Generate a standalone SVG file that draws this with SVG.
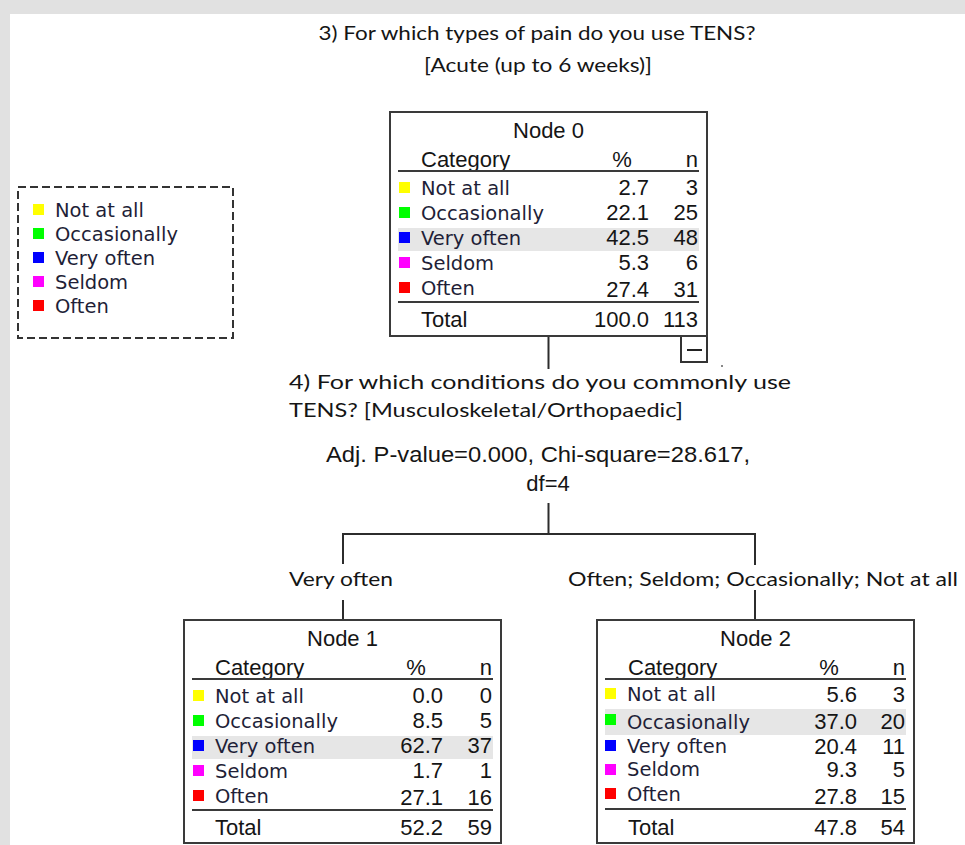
<svg xmlns="http://www.w3.org/2000/svg" width="965" height="845" viewBox="0 0 965 845">
<style>
.lab{font-family:"DejaVu Sans","Noto Sans",sans-serif;font-size:19.5px;fill:#1f1f38}
.tb{font-family:"Liberation Sans",Arial,sans-serif;font-size:22px;fill:#151515}
.cal{font-family:Lato,"Liberation Sans",sans-serif;font-size:19px;fill:#151515}
.box{fill:#fff;stroke:#3a3a3a;stroke-width:2}
.rule{stroke:#3a3a3a;stroke-width:2;fill:none}
.hl{fill:#e6e6e6}
.conn{stroke:#2c2c2c;stroke-width:2;fill:none}
.y{fill:#ffff00}.g{fill:#00ff00}.b{fill:#0000ff}.m{fill:#ff00ff}.r{fill:#ff0000}
</style>
<rect x="0" y="0" width="965" height="845" fill="#ffffff"/>
<rect x="0" y="0" width="965" height="14" fill="#e1e1e1"/>
<rect x="0" y="0" width="10" height="845" fill="#e1e1e1"/>

<g id="title">
<text class="cal" x="537" y="40" text-anchor="middle" textLength="437" lengthAdjust="spacingAndGlyphs">3) For which types of pain do you use TENS?</text>
<text class="cal" x="538" y="72" text-anchor="middle" textLength="228" lengthAdjust="spacingAndGlyphs">[Acute (up to 6 weeks)]</text>
</g>

<g id="legend">
<rect x="18" y="187" width="215" height="151" fill="none" stroke="#333" stroke-width="2" stroke-dasharray="8 4"/>
<rect class="y" x="33" y="204" width="11" height="11"/><text class="lab" x="55" y="217">Not at all</text>
<rect class="g" x="33" y="228" width="11" height="11"/><text class="lab" x="55" y="241">Occasionally</text>
<rect class="b" x="33" y="252" width="11" height="11"/><text class="lab" x="55" y="265">Very often</text>
<rect class="m" x="33" y="276" width="11" height="11"/><text class="lab" x="55" y="289">Seldom</text>
<rect class="r" x="33" y="300" width="11" height="11"/><text class="lab" x="55" y="313">Often</text>
</g>

<g id="connectors">
<line class="conn" x1="548.5" y1="336" x2="548.5" y2="369"/>
<path class="conn" d="M548.5 503 V534 M343 534 H755 M343 533 V564 M755 533 V565 M343 600 V620 M755 590 V620"/>
<rect x="681" y="336" width="26" height="26" fill="#fff" stroke="#333" stroke-width="2"/>
<line x1="687" y1="350" x2="702" y2="350" stroke="#222" stroke-width="2"/>
<rect x="721" y="365" width="2" height="2" fill="#888"/>
</g>

<g id="split">
<text class="cal" x="289" y="389" textLength="502" lengthAdjust="spacingAndGlyphs">4) For which conditions do you commonly use</text>
<text class="cal" x="289" y="417" textLength="394" lengthAdjust="spacingAndGlyphs">TENS? [Musculoskeletal/Orthopaedic]</text>
<text class="tb" x="326" y="462" textLength="424" lengthAdjust="spacingAndGlyphs">Adj. P-value=0.000, Chi-square=28.617,</text>
<text class="tb" x="548" y="491" text-anchor="middle">df=4</text>
</g>

<g id="edge-labels">
<text class="cal" x="289" y="586" textLength="104" lengthAdjust="spacingAndGlyphs">Very often</text>
<text class="cal" x="568" y="586" textLength="390" lengthAdjust="spacingAndGlyphs">Often; Seldom; Occasionally; Not at all</text>
</g>

<g id="node0" transform="translate(390,112)">
<rect class="box" x="0" y="0" width="317" height="224"/>
<rect class="hl" x="8" y="116" width="301" height="23"/>
<text class="tb" x="158.5" y="26" text-anchor="middle">Node 0</text>
<text class="tb" x="31" y="55">Category</text>
<text class="tb" x="232" y="55" text-anchor="middle">%</text>
<text class="tb" x="308" y="55" text-anchor="end">n</text>
<line class="rule" x1="8" y1="59" x2="309" y2="59"/>
<rect class="y" x="9" y="70" width="11" height="11"/><text class="lab" x="31" y="83">Not at all</text>
<text class="tb" x="259" y="83" text-anchor="end">2.7</text><text class="tb" x="308" y="83" text-anchor="end">3</text>
<rect class="g" x="9" y="95" width="11" height="11"/><text class="lab" x="31" y="108">Occasionally</text>
<text class="tb" x="259" y="108" text-anchor="end">22.1</text><text class="tb" x="308" y="108" text-anchor="end">25</text>
<rect class="b" x="9" y="120" width="11" height="11"/><text class="lab" x="31" y="133">Very often</text>
<text class="tb" x="259" y="133" text-anchor="end">42.5</text><text class="tb" x="308" y="133" text-anchor="end">48</text>
<rect class="m" x="9" y="145" width="11" height="11"/><text class="lab" x="31" y="158">Seldom</text>
<text class="tb" x="259" y="158" text-anchor="end">5.3</text><text class="tb" x="308" y="158" text-anchor="end">6</text>
<rect class="r" x="9" y="170" width="11" height="11"/><text class="lab" x="31" y="183">Often</text>
<text class="tb" x="259" y="185" text-anchor="end">27.4</text><text class="tb" x="308" y="185" text-anchor="end">31</text>
<line class="rule" x1="8" y1="190" x2="309" y2="190"/>
<text class="tb" x="31" y="215">Total</text>
<text class="tb" x="259" y="215" text-anchor="end">100.0</text><text class="tb" x="308" y="215" text-anchor="end">113</text>
</g>

<g id="node1" transform="translate(184,620)">
<rect class="box" x="0" y="0" width="317" height="223"/>
<rect class="hl" x="8" y="116" width="301" height="23"/>
<text class="tb" x="158.5" y="26" text-anchor="middle">Node 1</text>
<text class="tb" x="31" y="55">Category</text>
<text class="tb" x="232" y="55" text-anchor="middle">%</text>
<text class="tb" x="308" y="55" text-anchor="end">n</text>
<line class="rule" x1="8" y1="59" x2="309" y2="59"/>
<rect class="y" x="9" y="70" width="11" height="11"/><text class="lab" x="31" y="83">Not at all</text>
<text class="tb" x="259" y="83" text-anchor="end">0.0</text><text class="tb" x="308" y="83" text-anchor="end">0</text>
<rect class="g" x="9" y="95" width="11" height="11"/><text class="lab" x="31" y="108">Occasionally</text>
<text class="tb" x="259" y="108" text-anchor="end">8.5</text><text class="tb" x="308" y="108" text-anchor="end">5</text>
<rect class="b" x="9" y="120" width="11" height="11"/><text class="lab" x="31" y="133">Very often</text>
<text class="tb" x="259" y="133" text-anchor="end">62.7</text><text class="tb" x="308" y="133" text-anchor="end">37</text>
<rect class="m" x="9" y="145" width="11" height="11"/><text class="lab" x="31" y="158">Seldom</text>
<text class="tb" x="259" y="158" text-anchor="end">1.7</text><text class="tb" x="308" y="158" text-anchor="end">1</text>
<rect class="r" x="9" y="170" width="11" height="11"/><text class="lab" x="31" y="183">Often</text>
<text class="tb" x="259" y="185" text-anchor="end">27.1</text><text class="tb" x="308" y="185" text-anchor="end">16</text>
<line class="rule" x1="8" y1="190" x2="309" y2="190"/>
<text class="tb" x="31" y="215">Total</text>
<text class="tb" x="259" y="215" text-anchor="end">52.2</text><text class="tb" x="308" y="215" text-anchor="end">59</text>
</g>

<g id="node2" transform="translate(597,620)">
<rect class="box" x="0" y="0" width="317" height="223"/>
<rect class="hl" x="8" y="89" width="301" height="26"/>
<text class="tb" x="158.5" y="26" text-anchor="middle">Node 2</text>
<text class="tb" x="31" y="55">Category</text>
<text class="tb" x="232" y="55" text-anchor="middle">%</text>
<text class="tb" x="308" y="55" text-anchor="end">n</text>
<line class="rule" x1="8" y1="59" x2="309" y2="59"/>
<rect class="y" x="8" y="68" width="11" height="11"/><text class="lab" x="30" y="81">Not at all</text>
<text class="tb" x="260" y="82" text-anchor="end">5.6</text><text class="tb" x="308" y="82" text-anchor="end">3</text>
<rect class="g" x="8" y="94" width="11" height="11"/><text class="lab" x="30" y="109">Occasionally</text>
<text class="tb" x="260" y="109" text-anchor="end">37.0</text><text class="tb" x="308" y="109" text-anchor="end">20</text>
<rect class="b" x="8" y="120" width="11" height="11"/><text class="lab" x="30" y="133">Very often</text>
<text class="tb" x="260" y="134" text-anchor="end">20.4</text><text class="tb" x="308" y="134" text-anchor="end">11</text>
<rect class="m" x="8" y="144" width="11" height="11"/><text class="lab" x="30" y="156">Seldom</text>
<text class="tb" x="260" y="157" text-anchor="end">9.3</text><text class="tb" x="308" y="157" text-anchor="end">5</text>
<rect class="r" x="8" y="168" width="11" height="11"/><text class="lab" x="30" y="181">Often</text>
<text class="tb" x="260" y="184" text-anchor="end">27.8</text><text class="tb" x="308" y="184" text-anchor="end">15</text>
<line class="rule" x1="8" y1="189" x2="309" y2="189"/>
<text class="tb" x="31" y="215">Total</text>
<text class="tb" x="260" y="215" text-anchor="end">47.8</text><text class="tb" x="308" y="215" text-anchor="end">54</text>
</g>
</svg>
